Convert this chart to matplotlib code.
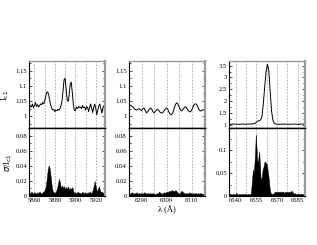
import matplotlib
matplotlib.use("Agg")
import matplotlib.pyplot as plt
from matplotlib.ticker import MultipleLocator, FixedLocator

# ---------------- data ----------------
# Panel 1 (He I / Na D region)
wl_a = list(range(5855, 5930))
ic_a = [1.024, 1.035, 1.030, 1.040, 1.028, 1.035, 1.045, 1.032, 1.038, 1.030,
        1.035, 1.040, 1.038, 1.045, 1.040, 1.050, 1.065, 1.078, 1.080, 1.070,
        1.050, 1.035, 1.025, 1.020, 1.022, 1.015, 1.020, 1.018, 1.022, 1.020,
        1.025, 1.035, 1.050, 1.085, 1.120, 1.125, 1.090, 1.055, 1.048, 1.070,
        1.105, 1.112, 1.080, 1.040, 1.020, 1.018, 1.030, 1.025, 1.032, 1.028,
        1.030, 1.025, 1.035, 1.028, 1.030, 1.020, 1.032, 1.028, 1.015, 1.030,
        1.040, 1.025, 1.012, 1.030, 1.040, 1.025, 1.005, 1.020, 1.035, 1.040,
        1.025, 1.010, 1.028, 1.035, 1.020]
sg_a = [0.005, 0.003, 0.006, 0.004, 0.003, 0.005, 0.004, 0.003, 0.005, 0.004,
        0.006, 0.004, 0.003, 0.005, 0.006, 0.008, 0.012, 0.022, 0.035, 0.041,
        0.036, 0.025, 0.012, 0.006, 0.005, 0.004, 0.006, 0.010, 0.016, 0.023,
        0.018, 0.010, 0.014, 0.011, 0.013, 0.009, 0.012, 0.010, 0.013, 0.008,
        0.011, 0.009, 0.012, 0.006, 0.004, 0.005, 0.003, 0.006, 0.004, 0.005,
        0.003, 0.004, 0.006, 0.003, 0.005, 0.004, 0.003, 0.005, 0.004, 0.006,
        0.004, 0.005, 0.008, 0.014, 0.020, 0.012, 0.006, 0.009, 0.013, 0.008,
        0.005, 0.006, 0.004, 0.005, 0.003]

# Panel 2 ([O I] 6300 region)
wl_b = [6285 + 0.5 * i for i in range(61)]
ic_b = [1.037, 1.036, 1.034, 1.030, 1.026, 1.022, 1.020, 1.022, 1.025, 1.022,
        1.018, 1.024, 1.027, 1.018, 1.011, 1.015, 1.022, 1.027, 1.024, 1.015,
        1.011, 1.016, 1.021, 1.022, 1.017, 1.012, 1.010, 1.012, 1.018, 1.024,
        1.027, 1.022, 1.012, 1.006, 1.005, 1.012, 1.025, 1.038, 1.044, 1.040,
        1.030, 1.020, 1.017, 1.022, 1.028, 1.031, 1.027, 1.020, 1.015, 1.014,
        1.020, 1.030, 1.038, 1.041, 1.038, 1.030, 1.020, 1.017, 1.018, 1.021,
        1.022]
sg_b = [0.004, 0.003, 0.005, 0.004, 0.003, 0.004, 0.005, 0.003, 0.004, 0.003,
        0.004, 0.003, 0.005, 0.004, 0.003, 0.004, 0.003, 0.004, 0.003, 0.004,
        0.003, 0.002, 0.004, 0.003, 0.006, 0.004, 0.003, 0.004, 0.005, 0.004,
        0.006, 0.005, 0.007, 0.006, 0.008, 0.007, 0.006, 0.008, 0.006, 0.004,
        0.003, 0.005, 0.007, 0.005, 0.004, 0.003, 0.004, 0.003, 0.005, 0.004,
        0.003, 0.004, 0.003, 0.004, 0.003, 0.004, 0.003, 0.004, 0.003, 0.003,
        0.004]

# Panel 3 (H alpha region)
wl_c = [6535, 6537, 6539, 6541, 6543, 6545, 6547, 6549, 6551, 6553,
        6554, 6555, 6556, 6557, 6558, 6559, 6560, 6561, 6562, 6563,
        6564, 6565, 6566, 6567, 6568, 6569, 6570, 6572, 6574, 6576,
        6578, 6580, 6582, 6584, 6586, 6588, 6590]
ic_c = [1.04, 1.04, 1.05, 1.04, 1.04, 1.05, 1.04, 1.05, 1.05, 1.06,
        1.08, 1.13, 1.17, 1.19, 1.22, 1.35, 1.90, 2.60, 3.25, 3.55,
        3.30, 2.40, 1.60, 1.20, 1.08, 1.05, 1.04, 1.04, 1.04, 1.05,
        1.04, 1.04, 1.05, 1.04, 1.04, 1.05, 1.04]
wl_d = [6535 + 0.5 * i for i in range(111)]
sg_d = [0.004, 0.003, 0.005, 0.004, 0.003, 0.004, 0.005, 0.004, 0.003, 0.004,
        0.005, 0.007, 0.004, 0.003, 0.004, 0.005, 0.004, 0.003, 0.004, 0.005,
        0.004, 0.005, 0.003, 0.004, 0.005, 0.004, 0.003, 0.004, 0.005, 0.004,
        0.003, 0.004, 0.008, 0.025, 0.045, 0.058, 0.050, 0.070, 0.095, 0.135,
        0.110, 0.080, 0.073, 0.085, 0.098, 0.070, 0.040, 0.036, 0.045, 0.058,
        0.062, 0.070, 0.076, 0.074, 0.072, 0.070, 0.060, 0.050, 0.036, 0.020,
        0.010, 0.006, 0.005, 0.004, 0.005, 0.006, 0.008, 0.009, 0.010, 0.008,
        0.009, 0.010, 0.008, 0.009, 0.008, 0.010, 0.009, 0.008, 0.010, 0.009,
        0.008, 0.007, 0.009, 0.008, 0.010, 0.009, 0.008, 0.009, 0.010, 0.008,
        0.009, 0.012, 0.009, 0.008, 0.006, 0.005, 0.006, 0.005, 0.004, 0.005,
        0.004, 0.005, 0.004, 0.005, 0.004, 0.005, 0.004, 0.005, 0.004, 0.005,
        0.004]

xlims = [(5855, 5929), (6285, 6315.3), (6535, 6590)]
xticks = [[5860, 5880, 5900, 5920], [6290, 6300, 6310], [6540, 6555, 6570, 6585]]
xgrid = [[5860, 5870, 5880, 5890, 5900, 5910, 5920],
         [6290, 6295, 6300, 6305, 6310],
         [6540, 6547.5, 6555, 6562.5, 6570, 6577.5, 6585]]
top_ylims = [(0.96, 1.18), (0.96, 1.18), (0.87, 3.67)]
top_major = [0.05, 0.05, 0.5]
bot_ylims = [(0, 0.09), (0, 0.09), (0, 0.148)]
bot_major = [0.02, 0.02, 0.05]

# ---------------- figure ----------------
plt.rcParams['font.family'] = ['Liberation Serif', 'DejaVu Serif']
fs = 4.8
fig = plt.figure(figsize=(3.17, 2.45), dpi=100)

W, H = 317.0, 245.0
xs = [(29.3, 105.0), (129.0, 205.0), (229.0, 304.5)]
top_y = (61.5, 128.3)
bot_y = (128.3, 196.0)

def mk(x0, x1, y0, y1):
    return fig.add_axes([x0 / W, 1 - y1 / H, (x1 - x0) / W, (y1 - y0) / H])

tops = [(wl_a, ic_a), (wl_b, ic_b), (wl_c, ic_c)]
bots = [(wl_a, sg_a), (wl_b, sg_b), (wl_d, sg_d)]

for i in range(3):
    axt = mk(xs[i][0], xs[i][1], *top_y)
    axb = mk(xs[i][0], xs[i][1], *bot_y)
    for ax in (axt, axb):
        ax.set_xlim(*xlims[i])
        for g in xgrid[i]:
            ax.axvline(g, color='#999999', lw=0.5, ls=(0, (2.5, 2)), zorder=0)
        ax.xaxis.set_major_locator(FixedLocator(xticks[i]))
        ax.tick_params(axis='both', which='both', direction='in', labelsize=fs,
                       width=0.5, pad=1.5)
        ax.tick_params(axis='y', which='both', right=True, left=True)
        ax.tick_params(axis='x', which='both', top=False, length=0)
        ax.tick_params(axis='y', which='major', length=2.5)
        ax.tick_params(axis='y', which='minor', length=1.5)
        ax.spines['left'].set_linewidth(0.8)
        ax.spines['bottom'].set_linewidth(0.8)
        ax.spines['right'].set_color('#999999')
        ax.spines['right'].set_linewidth(1.6)
        ax.spines['top'].set_color('#999999')
        ax.spines['top'].set_linewidth(1.0)

    x, y = tops[i]
    axt.plot(x, y, color='black', lw=0.7)
    axt.set_ylim(*top_ylims[i])
    axt.yaxis.set_major_locator(MultipleLocator(top_major[i]))
    axt.yaxis.set_minor_locator(MultipleLocator(top_major[i] / 2))
    axt.set_xticklabels([])
    axt.spines['bottom'].set_color('black')
    axt.spines['bottom'].set_linewidth(1.0)

    x, y = bots[i]
    axb.fill_between(x, 0, y, color='black', lw=0.3)
    axb.set_ylim(*bot_ylims[i])
    axb.yaxis.set_major_locator(MultipleLocator(bot_major[i]))
    axb.yaxis.set_minor_locator(MultipleLocator(bot_major[i] / 2))
    axb.spines['top'].set_color('black')
    axb.spines['top'].set_linewidth(1.0)

    if i == 0:
        axt.set_ylabel(r'I$_{\rm c1}$', fontsize=6, labelpad=3)
        axb.set_ylabel(r'$\sigma$/I$_{\rm c1}$', fontsize=6, labelpad=1)
    if i == 1:
        axb.set_xlabel('λ (Å)', fontsize=6, labelpad=2)
    for ax in (axt, axb):
        ax.yaxis.set_major_formatter(plt.FuncFormatter(lambda v, p: ('%g' % round(v, 4))))

fig.savefig('out.png', dpi=100)
